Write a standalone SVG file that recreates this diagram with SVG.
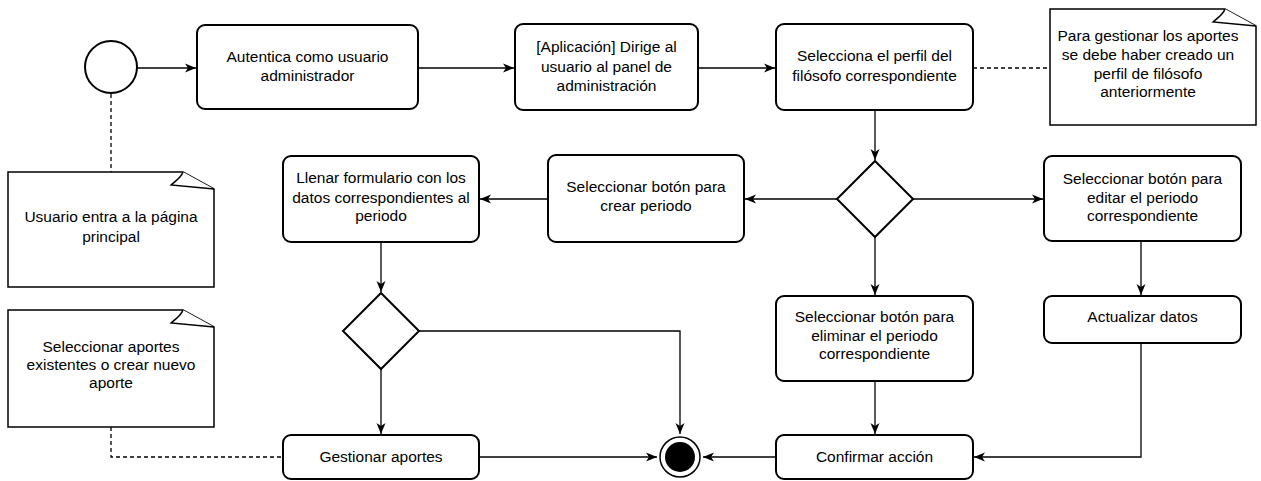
<svg xmlns="http://www.w3.org/2000/svg" width="1261" height="481" viewBox="0 0 1261 481">
<style>
.box{fill:#fff;stroke:#000;stroke-width:2}
.note{fill:#fff;stroke:#000;stroke-width:1.5}
.t{font-family:"Liberation Sans",Arial,sans-serif;font-size:15.5px;fill:#000;text-anchor:middle}
.c{fill:none;stroke:#000;stroke-width:1.3}
.d{fill:none;stroke:#000;stroke-width:1.3;stroke-dasharray:4 3}
</style>
<defs>
<marker id="a" markerUnits="userSpaceOnUse" markerWidth="12" markerHeight="10" refX="11" refY="5" orient="auto">
<path d="M0,0.5 L11,5 L0,9.5 L3,5 Z" fill="#000"/>
</marker>
</defs>
<g id="connectors">
<path class="c" d="M137,68 H196" marker-end="url(#a)"/>
<path class="c" d="M418,68 H514" marker-end="url(#a)"/>
<path class="c" d="M698,68 H775" marker-end="url(#a)"/>
<path class="d" d="M973,68 H1050"/>
<path class="c" d="M875,110 V160" marker-end="url(#a)"/>
<path class="c" d="M837,199 H745" marker-end="url(#a)"/>
<path class="c" d="M548,199 H480" marker-end="url(#a)"/>
<path class="c" d="M913,199 H1043" marker-end="url(#a)"/>
<path class="c" d="M875,237 V295" marker-end="url(#a)"/>
<path class="c" d="M1141,241 V295" marker-end="url(#a)"/>
<path class="c" d="M875,381 V434" marker-end="url(#a)"/>
<path class="c" d="M1141,343 V457 H974" marker-end="url(#a)"/>
<path class="c" d="M776,457 H703" marker-end="url(#a)"/>
<path class="c" d="M479,457 H657" marker-end="url(#a)"/>
<path class="c" d="M381,242 V292" marker-end="url(#a)"/>
<path class="c" d="M381,369 V434" marker-end="url(#a)"/>
<path class="c" d="M419,331 H680 V434" marker-end="url(#a)"/>
<path class="d" d="M111,94 V172"/>
<path class="d" d="M111,427 V457 H283"/>
</g>
<g id="start"><circle cx="111" cy="67" r="26" fill="#fff" stroke="#000" stroke-width="2"/></g>
<g id="n1"><rect class="box" x="197" y="25" width="221" height="84" rx="8"/>
<text class="t" x="307.5" y="62">Autentica como usuario</text><text class="t" x="307.5" y="81">administrador</text></g>
<g id="n2"><rect class="box" x="515" y="24" width="183" height="86" rx="8"/>
<text class="t" x="606.5" y="52">[Aplicación] Dirige al</text><text class="t" x="606.5" y="72">usuario al panel de</text><text class="t" x="606.5" y="91">administración</text></g>
<g id="n3"><rect class="box" x="776" y="24" width="197" height="86" rx="8"/>
<text class="t" x="874.5" y="61">Selecciona el perfil del</text><text class="t" x="874.5" y="81">filósofo correspondiente</text></g>
<g id="note1"><path class="note" d="M1050,9 H1225 L1256,26 V125 H1050 Z"/><path class="note" d="M1225,9 C1223,15 1215,20 1213,22 L1256,26"/>
<text class="t" x="1148" y="41">Para gestionar los aportes</text><text class="t" x="1148" y="60">se debe haber creado un</text><text class="t" x="1148" y="79">perfil de filósofo</text><text class="t" x="1148" y="97">anteriormente</text></g>
<g id="dec1"><path class="box" d="M875,161 L913,199 L875,237 L837,199 Z"/></g>
<g id="n4"><rect class="box" x="548" y="155" width="196" height="87" rx="8"/>
<text class="t" x="646" y="192">Seleccionar botón para</text><text class="t" x="646" y="211">crear periodo</text></g>
<g id="n5"><rect class="box" x="283" y="156" width="196" height="86" rx="8"/>
<text class="t" x="381" y="183">Llenar formulario con los</text><text class="t" x="381" y="203">datos correspondientes al</text><text class="t" x="381" y="221">periodo</text></g>
<g id="n6"><rect class="box" x="1044" y="156" width="197" height="85" rx="8"/>
<text class="t" x="1142.5" y="184">Seleccionar botón para</text><text class="t" x="1142.5" y="203">editar el periodo</text><text class="t" x="1142.5" y="221">correspondiente</text></g>
<g id="note2"><path class="note" d="M8,172 H183 L214,189 V287 H8 Z"/><path class="note" d="M183,172 C181,178 173,183 171,185 L214,189"/>
<text class="t" x="111" y="222">Usuario entra a la página</text><text class="t" x="111" y="242">principal</text></g>
<g id="dec2"><path class="box" d="M381,293 L419,331 L381,369 L343,331 Z"/></g>
<g id="n7"><rect class="box" x="776" y="296" width="197" height="85" rx="8"/>
<text class="t" x="874.5" y="322">Seleccionar botón para</text><text class="t" x="874.5" y="341">eliminar el periodo</text><text class="t" x="874.5" y="359">correspondiente</text></g>
<g id="n8"><rect class="box" x="1044" y="296" width="197" height="47" rx="8"/>
<text class="t" x="1142.5" y="322">Actualizar datos</text></g>
<g id="note3"><path class="note" d="M8,310 H183 L214,327 V427 H8 Z"/><path class="note" d="M183,310 C181,316 173,321 171,323 L214,327"/>
<text class="t" x="111" y="352">Seleccionar aportes</text><text class="t" x="111" y="370">existentes o crear nuevo</text><text class="t" x="111" y="388">aporte</text></g>
<g id="n9"><rect class="box" x="283" y="435" width="196" height="44" rx="8"/>
<text class="t" x="381" y="462">Gestionar aportes</text></g>
<g id="n10"><rect class="box" x="776" y="435" width="197" height="44" rx="8"/>
<text class="t" x="874.5" y="462">Confirmar acción</text></g>
<g id="end"><circle cx="680" cy="457" r="20" fill="#fff" stroke="#000" stroke-width="1.5"/><circle cx="680" cy="457" r="15" fill="#000"/></g>
</svg>
